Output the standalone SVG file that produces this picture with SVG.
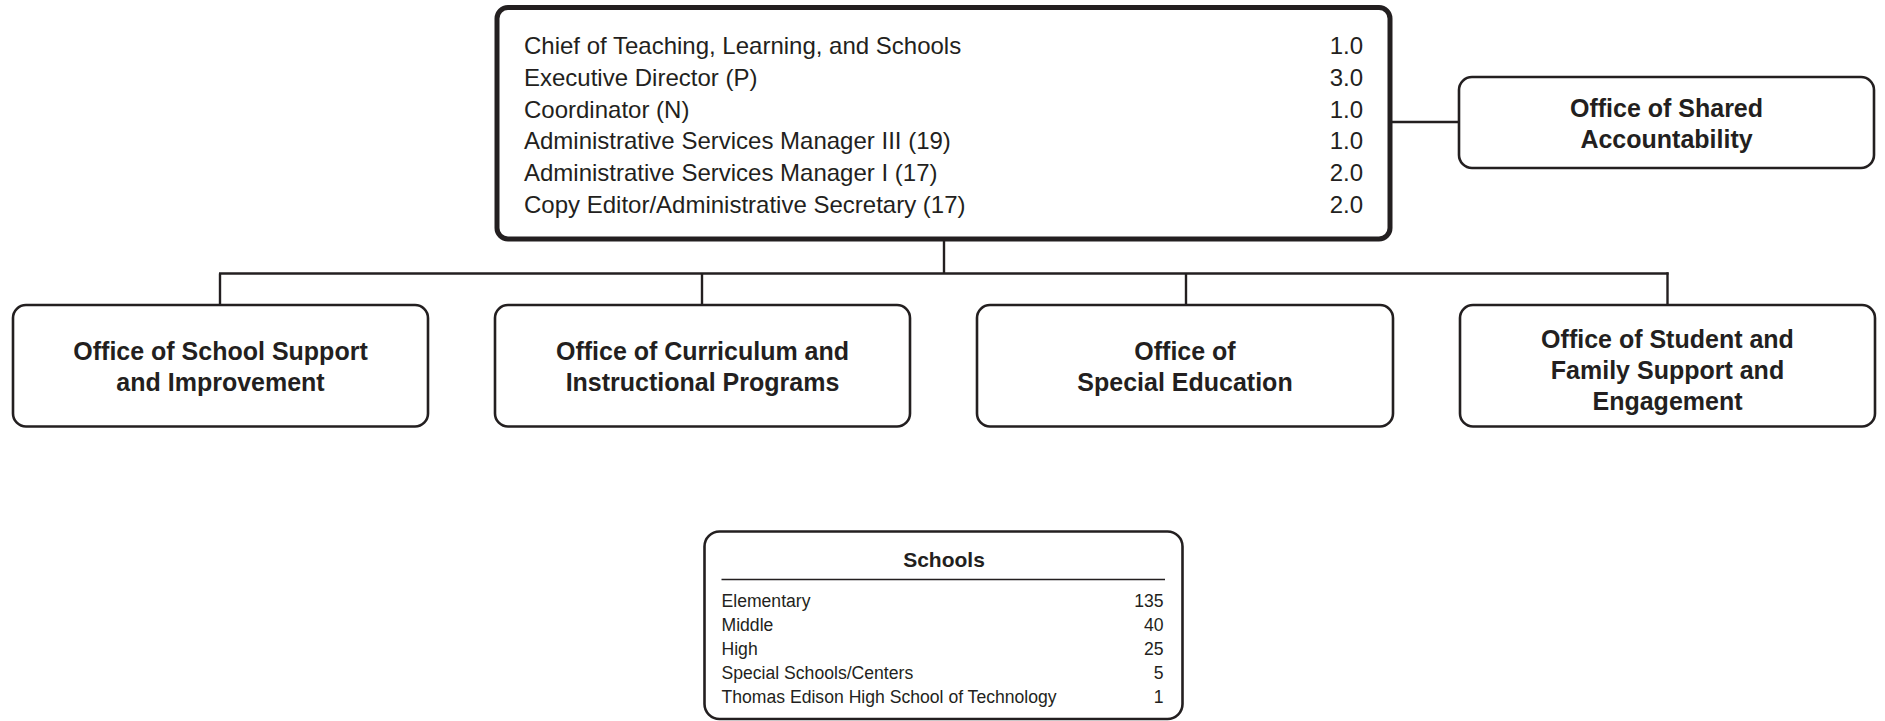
<svg xmlns="http://www.w3.org/2000/svg" width="1885" height="721" viewBox="0 0 1885 721">
  <style>
    .box { fill: #ffffff; stroke: #231f20; stroke-width: 2.6; }
    .main { fill: #ffffff; stroke: #231f20; stroke-width: 5; }
    .link { fill: none; stroke: #231f20; stroke-width: 2.4; }
    .rule { stroke: #231f20; stroke-width: 1.4; }
    .t { font-family: "Liberation Sans", Arial, sans-serif; fill: #231f20; }
    .title { font-size: 25px; font-weight: bold; text-anchor: middle; }
    .row { font-size: 24px; }
    .num { font-size: 24px; text-anchor: end; }
    .srow { font-size: 17.6px; }
    .snum { font-size: 17.6px; text-anchor: end; }
    .shead { font-size: 21px; font-weight: bold; text-anchor: middle; }
  </style>

  <!-- connectors -->
  <g id="connectors">
    <line class="link" x1="944" y1="240" x2="944" y2="273.5"/>
    <line class="link" x1="219" y1="273.5" x2="1668.5" y2="273.5"/>
    <line class="link" x1="220" y1="273.5" x2="220" y2="305"/>
    <line class="link" x1="702" y1="273.5" x2="702" y2="305"/>
    <line class="link" x1="1186" y1="273.5" x2="1186" y2="305"/>
    <line class="link" x1="1667.5" y1="272.3" x2="1667.5" y2="305"/>
    <line class="link" x1="1392" y1="122" x2="1459" y2="122"/>
  </g>

  <!-- leadership office -->
  <g id="chief">
    <rect class="main" x="497" y="7.5" width="893" height="231.5" rx="11"/>
    <text class="t row" x="524" y="54">Chief of Teaching, Learning, and Schools</text>
    <text class="t row" x="524" y="85.8">Executive Director (P)</text>
    <text class="t row" x="524" y="117.6">Coordinator (N)</text>
    <text class="t row" x="524" y="149.4">Administrative Services Manager III (19)</text>
    <text class="t row" x="524" y="181.2">Administrative Services Manager I (17)</text>
    <text class="t row" x="524" y="213">Copy Editor/Administrative Secretary (17)</text>
    <text class="t num" x="1363" y="54">1.0</text>
    <text class="t num" x="1363" y="85.8">3.0</text>
    <text class="t num" x="1363" y="117.6">1.0</text>
    <text class="t num" x="1363" y="149.4">1.0</text>
    <text class="t num" x="1363" y="181.2">2.0</text>
    <text class="t num" x="1363" y="213">2.0</text>
  </g>

  <g id="shared-accountability">
    <rect class="box" x="1459" y="77" width="415" height="91" rx="13"/>
    <text class="t title" x="1666.5" y="117">Office of Shared</text>
    <text class="t title" x="1666.5" y="148">Accountability</text>
  </g>

  <g id="school-support">
    <rect class="box" x="13" y="305" width="415" height="121.5" rx="13"/>
    <text class="t title" x="220.5" y="360">Office of School Support</text>
    <text class="t title" x="220.5" y="391">and Improvement</text>
  </g>

  <g id="curriculum">
    <rect class="box" x="495" y="305" width="415" height="121.5" rx="13"/>
    <text class="t title" x="702.5" y="360">Office of Curriculum and</text>
    <text class="t title" x="702.5" y="391">Instructional Programs</text>
  </g>

  <g id="special-education">
    <rect class="box" x="977" y="305" width="416" height="121.5" rx="13"/>
    <text class="t title" x="1185" y="360">Office of</text>
    <text class="t title" x="1185" y="391">Special Education</text>
  </g>

  <g id="student-family">
    <rect class="box" x="1460" y="305" width="415" height="121.5" rx="13"/>
    <text class="t title" x="1667.5" y="348">Office of Student and</text>
    <text class="t title" x="1667.5" y="379">Family Support and</text>
    <text class="t title" x="1667.5" y="410">Engagement</text>
  </g>

  <!-- school counts -->
  <g id="schools">
    <rect class="box" x="704.5" y="531.5" width="478" height="187.5" rx="15"/>
    <text class="t shead" x="944" y="566.5">Schools</text>
    <line class="rule" x1="721.5" y1="579.5" x2="1165" y2="579.5"/>
    <text class="t srow" x="721.5" y="607">Elementary</text>
    <text class="t srow" x="721.5" y="631">Middle</text>
    <text class="t srow" x="721.5" y="655">High</text>
    <text class="t srow" x="721.5" y="679">Special Schools/Centers</text>
    <text class="t srow" x="721.5" y="703">Thomas Edison High School of Technology</text>
    <text class="t snum" x="1163.5" y="607">135</text>
    <text class="t snum" x="1163.5" y="631">40</text>
    <text class="t snum" x="1163.5" y="655">25</text>
    <text class="t snum" x="1163.5" y="679">5</text>
    <text class="t snum" x="1163.5" y="703">1</text>
  </g>
</svg>
